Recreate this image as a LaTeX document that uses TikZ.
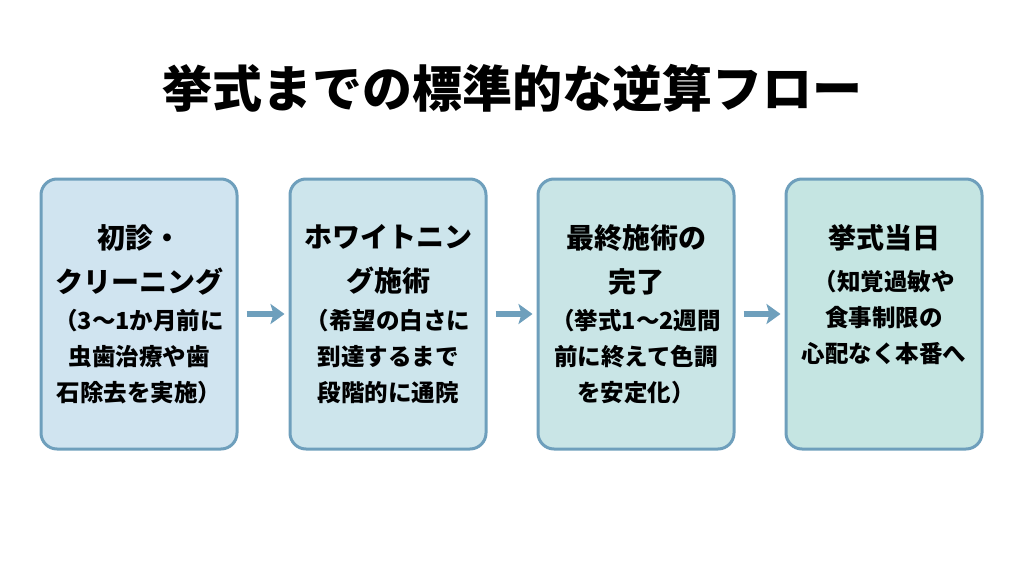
\documentclass[tikz,border=0pt]{standalone}
\usepackage{fontspec}
\setmainfont{Noto Sans CJK JP}
\usetikzlibrary{arrows.meta}
\definecolor{frame}{HTML}{6E9FBC}
\definecolor{fillA}{HTML}{D0E4F0}
\definecolor{fillB}{HTML}{CDE5EC}
\definecolor{fillC}{HTML}{C9E5E6}
\definecolor{fillD}{HTML}{C5E5E2}
\tikzset{
  stage/.style={draw=frame, line width=3pt, rounded corners=16pt,
    minimum width=196pt, minimum height=270pt},
  head/.style={align=center, anchor=north, inner sep=0pt,
    font=\fontsize{28}{44}\selectfont\bfseries},
  note/.style={align=center, anchor=north, inner sep=0pt,
    font=\fontsize{23.5}{36}\selectfont\bfseries},
  flow/.style={-{Stealth[length=14pt,width=20pt,inset=3pt]}, draw=frame, line width=5.5pt,
    shorten <=8pt, shorten >=4pt}
}
\begin{document}
\begin{tikzpicture}[x=1pt,y=-1pt]
        \useasboundingbox (0,0) rectangle (1024,572);
        \node[font=\fontsize{50}{60}\selectfont\bfseries] (title) at (512,88) {挙式までの標準的な逆算フロー};
        \node[stage, fill=fillA] (s1) at (139,314) {};
        \node[stage, fill=fillB] (s2) at (388,314) {};
        \node[stage, fill=fillC] (s3) at (636,314) {};
        \node[stage, fill=fillD] (s4) at (884,314) {};
        % texts
        \node[head] (h1) at (139,224) {初診・\\クリーニング};
        \node[note] (n1) at (139,309) {（3～1か月前に\\虫歯治療や歯\\石除去を実施）};
        \node[head] (h2) at (388,224) {ホワイトニン\\グ施術};
        \node[note] (n2) at (388,309) {（希望の白さに\\到達するまで\\段階的に通院};
        \node[head] (h3) at (636,224) {最終施術の\\完了};
        \node[note] (n3) at (636,309) {（挙式1～2週間\\前に終えて色調\\を安定化）};
        \node[head] (h4) at (884,224) {挙式当日};
        \node[note] (n4) at (884,270) {（知覚過敏や\\食事制限の\\心配なく本番へ};
        \draw[flow] (s1) -- (s2);
        \draw[flow] (s2) -- (s3);
        \draw[flow] (s3) -- (s4);
\end{tikzpicture}
\end{document}
